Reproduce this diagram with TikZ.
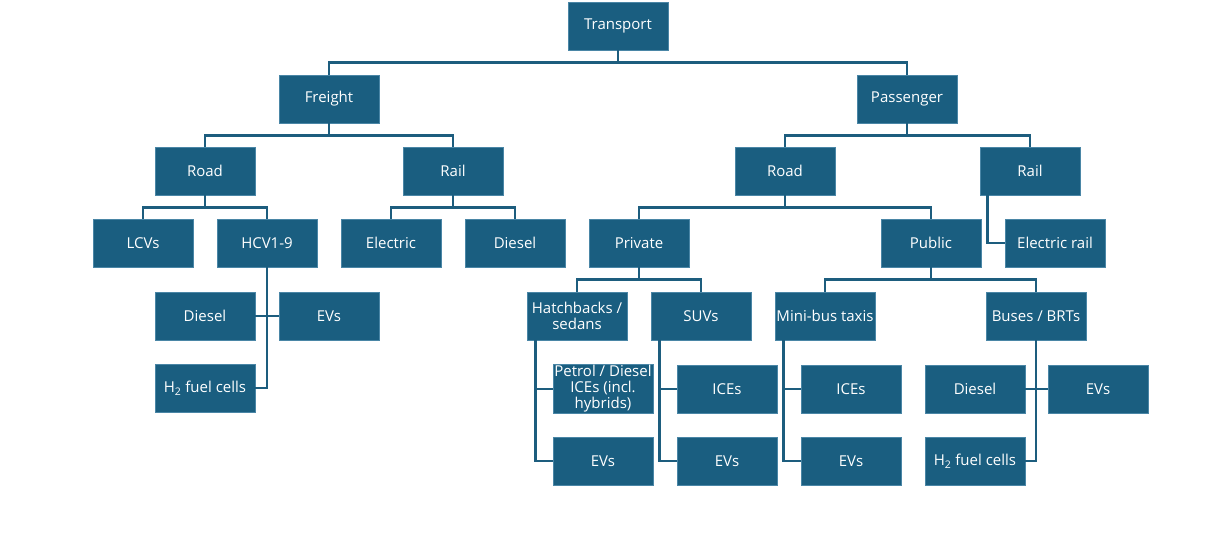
\documentclass[tikz,border=0pt]{standalone}
\usepackage{fontspec}
\setmainfont{Open Sans}
\definecolor{boxblue}{HTML}{1A5E80}
\definecolor{boxedge}{HTML}{4A86A6}
\definecolor{linkblue}{HTML}{1D5D7E}
\begin{document}
\begin{tikzpicture}[x=1pt,y=-1pt,
	box/.style={draw=boxedge,line width=0.7pt,fill=boxblue,text=white,
		minimum width=100pt,minimum height=48pt,inner sep=1pt,
		align=center,font=\fontsize{15}{16}\selectfont},
	link/.style={draw=linkblue,line width=2.5pt}]
	\useasboundingbox (0,0) rectangle (1231,533);
%Ebene 1 und 2
	\node[box] (tr) at (618,26) {Transport};
	\node[box] (fr) at (329,99) {Freight};
	\node[box] (pa) at (907,99) {Passenger};
%Ebene 3
	\node[box] (fro) at (205,171) {Road};
	\node[box] (fra) at (453,171) {Rail};
	\node[box] (pro) at (785,171) {Road};
	\node[box] (pra) at (1030,171) {Rail};
%Ebene 4
	\node[box] (lcv) at (143,243) {LCVs};
	\node[box] (hcv) at (267,243) {HCV1-9};
	\node[box] (fel) at (391,243) {Electric};
	\node[box] (fdi) at (515,243) {Diesel};
	\node[box] (pri) at (639,243) {Private};
	\node[box] (pub) at (931,243) {Public};
	\node[box] (erl) at (1055,243) {Electric rail};
%Ebene 5
	\node[box] (hdi) at (205,316) {Diesel};
	\node[box] (hev) at (329,316) {EVs};
	\node[box] (hh2) at (205,388) {H\textsubscript{2} fuel cells};
	\node[box] (hat) at (577,316) {Hatchbacks /\\sedans};
	\node[box] (suv) at (701,316) {SUVs};
	\node[box] (mbt) at (825,316) {Mini-bus taxis};
	\node[box] (bus) at (1036,316) {Buses / BRTs};
%Ebene 6
	\node[box] (hice) at (603,389) {Petrol / Diesel\\ICEs (incl.\\hybrids)};
	\node[box] (hevs) at (603,461) {EVs};
	\node[box] (sice) at (727,389) {ICEs};
	\node[box] (sevs) at (727,461) {EVs};
	\node[box] (mice) at (851,389) {ICEs};
	\node[box] (mevs) at (851,461) {EVs};
	\node[box] (bdi) at (975,389) {Diesel};
	\node[box] (bev) at (1098,389) {EVs};
	\node[box] (bh2) at (975,461) {H\textsubscript{2} fuel cells};
%Verbindungen
	\foreach \p/\c in {tr/fr,tr/pa,fr/fro,fr/fra,pa/pro,pa/pra,
		fro/lcv,fro/hcv,fra/fel,fra/fdi,pro/pri,pro/pub,
		pri/hat,pri/suv,pub/mbt,pub/bus}{
		\draw[link] (\p.south) -- ++(0,12) -| (\c.north);}
%Seitenzweige
	\draw[link] (hcv.south) |- (hh2.east);
	\draw[link] (hdi.east) -- (hev.west);
	\draw[link] (bus.south) |- (bh2.east);
	\draw[link] (bdi.east) -- (bev.west);
	\draw[link] ([xshift=8pt]pra.south west) |- (erl.west);
	\foreach \p/\a/\b in {hat/hice/hevs,suv/sice/sevs,mbt/mice/mevs}{
		\draw[link] ([xshift=9pt]\p.south west) |- (\a.west);
		\draw[link] ([xshift=9pt]\p.south west) |- (\b.west);}
\end{tikzpicture}
\end{document}
